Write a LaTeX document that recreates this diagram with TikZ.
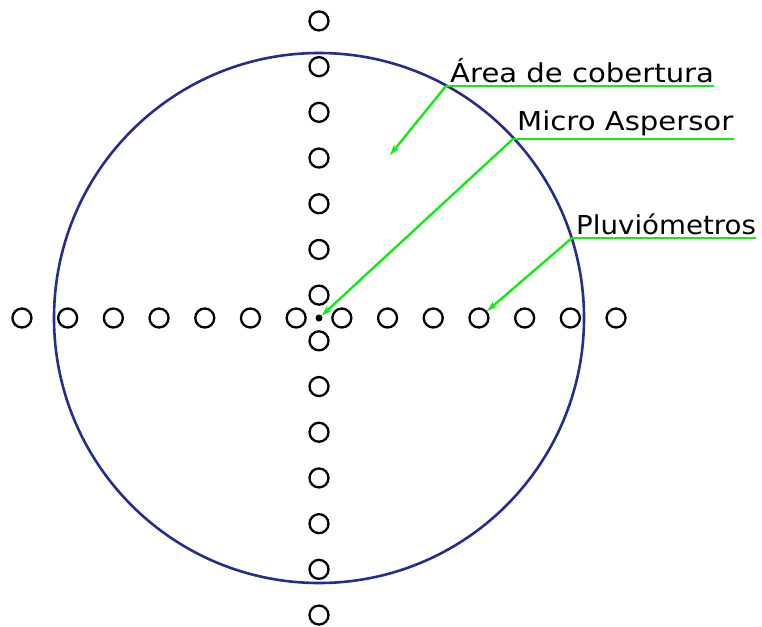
\documentclass[tikz,border=0pt]{standalone}
\usepackage{fontspec}
\setmainfont{DejaVu Sans}
\usetikzlibrary{arrows.meta,positioning}
\definecolor{cvblue}{RGB}{40,44,140}
\definecolor{cvgreen}{RGB}{20,235,20}

\begin{document}
\begin{tikzpicture}[x=1pt,y=-1pt,
  pluv/.style={draw,circle,line width=2.3pt,minimum size=19pt,inner sep=0pt},
  lbl/.style={anchor=south west,inner sep=0pt,xscale=1.12,font=\fontsize{26}{26}\selectfont},
  lead/.style={cvgreen,line width=2.4pt},
  arr/.style={lead,-{Stealth[length=11pt,width=7pt]}}]
  \useasboundingbox (0,0) rectangle (762,626);
  % coverage area
  \draw[cvblue,line width=2.6pt] (319,318) circle[radius=265];
  % rain gauges
  \foreach \i in {1,...,7}{
    \node[pluv] (e\i) at ({319+22.85*(2*\i-1)},318) {};
    \node[pluv] (w\i) at ({319-22.85*(2*\i-1)},318) {};
    \node[pluv] (n\i) at (319,{318-22.85*(2*\i-1)}) {};
    \node[pluv] (s\i) at (319,{318+22.85*(2*\i-1)}) {};
  }
  % sprinkler
  \node[circle,fill=black,minimum size=7pt,inner sep=0pt] (asp) at (319,318) {};
  % labels
  \coordinate (kA) at (446,86);
  \coordinate (kM) at (513,139);
  \coordinate (kP) at (572,238);
  \coordinate (tA) at (390,155);
  \node[lbl] (lA) at (450,83) {Área de cobertura};
  \node[lbl] (lM) at (517,136) {Micro Aspersor};
  \node[lbl,xscale=0.95] (lP) at (576,235) {Pluviómetros};
  \draw[lead] (kA) -- (lA.south east |- kA);
  \draw[lead] (kM) -- (lM.south east |- kM);
  \draw[lead] (kP) -- (lP.south east |- kP);
  \draw[arr] (kA) -- (tA);
  \draw[arr] (kM) -- (asp);
  \draw[arr] (kP) -- (e4);
\end{tikzpicture}
\end{document}
